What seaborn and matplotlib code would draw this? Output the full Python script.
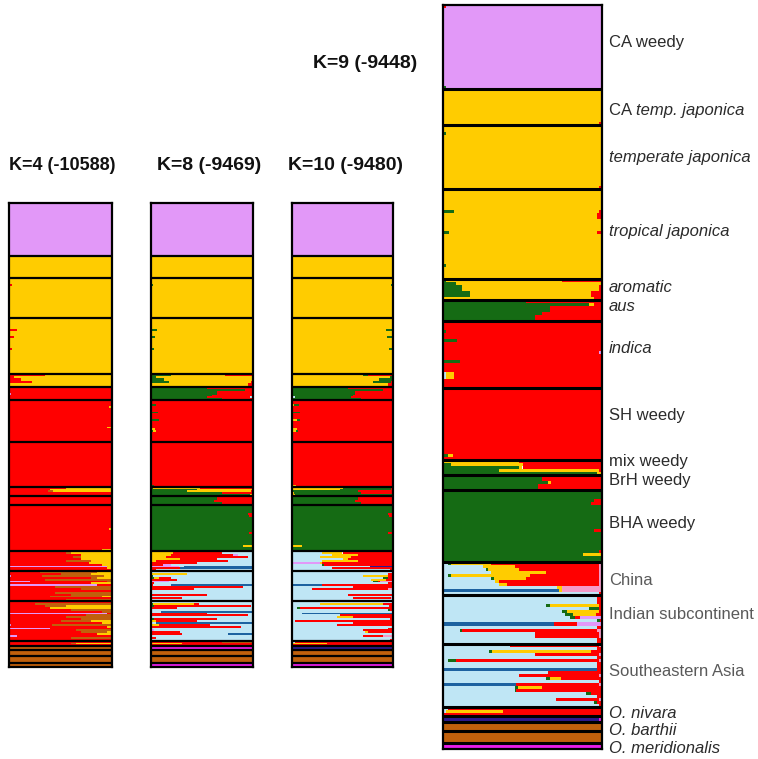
import matplotlib
matplotlib.use("Agg")
import matplotlib.pyplot as plt
import pandas as pd
import seaborn as sns

# group labels (plain part, italic part), top to bottom
label_plain = ["CA weedy", "CA ", "", "", "", "", "", "SH weedy", "mix weedy", "BrH weedy",
               "BHA weedy", "China", "Indian subcontinent", "Southeastern Asia", "", "", "", "", ""]
label_italic = ["", "temp. japonica", "temperate japonica", "tropical japonica", "aromatic", "aus",
                "indica", "", "", "", "", "", "", "", "O. nivara", "", "O. barthii", "", "O. meridionalis"]
label_grey = ["China", "Indian subcontinent", "Southeastern Asia"]

titles = ["K=4 (-10588)", "K=8 (-9469)", "K=10 (-9480)", "K=9 (-9448)"]

palette = {"lb": "#bfe6f5", "sb": "#1d62a0", "nv": "#2c1a8e", "g": "#156b14", "y": "#ffcc00",
           "r": "#ff0000", "pk": "#f59ac8", "li": "#e298f8", "br": "#c0600c", "mg": "#e81ee8"}

# left-to-right stacking order of the clusters in each run
k4_order = ["li", "r", "br", "y"]
k8_order = ["g", "y", "r", "li", "lb", "sb", "mg", "br"]
k10_order = ["lb", "li", "sb", "y", "g", "r", "pk", "nv", "br", "mg"]
k9_order = ["lb", "sb", "nv", "g", "y", "r", "pk", "li", "br", "mg"]

# membership rows per group: (number of individuals, {cluster: fraction})
k9_rows = [
    [(1, {"r": .02, "li": .98}), (26, {"li": 1}), (1, {"g": .02, "li": .98})],
    [(11, {"y": 1}), (1, {"y": .98, "r": .02})],
    [(2, {"y": 1}), (1, {"g": .02, "y": .98}), (17, {"y": 1}), (1, {"y": .98, "r": .02})],
    [(7, {"y": 1}), (1, {"g": .07, "y": .91, "r": .02}), (2, {"y": .97, "r": .03}), (4, {"y": 1}),
     (1, {"g": .04, "y": .93, "r": .03}), (10, {"y": 1}), (1, {"g": .02, "y": .98}), (4, {"y": 1})],
    [(1, {"g": .02, "y": .73, "r": .25}), (1, {"g": .08, "y": .92}), (2, {"g": .12, "y": .86, "r": .02}),
     (2, {"g": .17, "y": .76, "r": .07}), (1, {"y": .95, "r": .05})],
    [(1, {"g": .52, "r": .48}), (1, {"g": .92, "y": .03, "r": .05}), (2, {"g": .67, "r": .33}),
     (1, {"g": .62, "r": .38}), (2, {"g": .58, "r": .42})],
    [(3, {"r": 1}), (1, {"g": .02, "r": .98}), (2, {"r": 1}), (1, {"g": .09, "r": .91}), (3, {"r": 1}),
     (1, {"r": .98, "li": .02}), (2, {"r": 1}), (1, {"g": .11, "r": .89}), (3, {"r": 1}),
     (2, {"lb": .02, "y": .05, "r": .93}), (3, {"r": 1})],
    [(22, {"r": 1}), (1, {"g": .03, "y": .03, "r": .94}), (1, {"r": 1})],
    [(1, {"y": .48, "r": .52}), (1, {"g": .05, "y": .45, "r": .5}), (1, {"g": .48, "y": .02, "r": .5}),
     (1, {"g": .35, "y": .63, "r": .02}), (1, {"g": .97, "y": .03})],
    [(2, {"g": .62, "r": .38}), (1, {"g": .66, "y": .02, "r": .32}), (2, {"g": .6, "r": .4})],
    [(3, {"g": 1}), (1, {"g": .95, "r": .05}), (1, {"g": .93, "r": .07}), (8, {"g": 1}),
     (1, {"g": .95, "r": .05}), (6, {"g": 1}), (1, {"g": .98, "r": .02}), (1, {"g": .88, "y": .12}),
     (2, {"g": 1})],
    [(1, {"lb": .03, "g": .02, "y": .25, "r": .68, "pk": .02}), (1, {"lb": .25, "y": .2, "r": .53, "pk": .02}),
     (1, {"lb": .27, "g": .01, "y": .2, "r": .5, "pk": .02}), (1, {"lb": .3, "y": .35, "r": .33, "pk": .02}),
     (1, {"lb": .03, "g": .02, "y": .5, "r": .43, "pk": .02}), (1, {"lb": .3, "g": .02, "y": .2, "r": .46, "pk": .02}),
     (1, {"lb": .33, "y": .02, "r": .63, "pk": .02}), (1, {"lb": .35, "y": .05, "r": .58, "pk": .02}),
     (1, {"lb": .72, "y": .03, "pk": .25}), (1, {"sb": .73, "y": .02, "pk": .25}), (1, {"lb": .98, "r": .02})],
    [(3, {"lb": .97, "r": .03}), (1, {"lb": .65, "g": .02, "y": .31, "r": .02}), (1, {"lb": .92, "g": .06, "r": .02}),
     (1, {"lb": .75, "g": .03, "y": .2, "r": .02}), (1, {"lb": .77, "g": .05, "y": .14, "r": .04}),
     (1, {"lb": .8, "g": .03, "r": .03, "li": .14}), (1, {"lb": .97, "g": .02, "r": .01}),
     (1, {"sb": .7, "r": .14, "li": .16}), (1, {"lb": .97, "r": .03}), (1, {"lb": .11, "g": .01, "r": .85, "pk": .03}),
     (2, {"lb": .58, "r": .4, "pk": .02}), (2, {"lb": .97, "r": .03})],
    [(1, {"lb": .42, "r": .56, "pk": .02}), (1, {"lb": .97, "r": .03}), (1, {"lb": .29, "g": .02, "y": .62, "r": .07}),
     (1, {"lb": .58, "r": .4, "pk": .02}), (1, {"lb": .97, "r": .03}), (1, {"lb": .03, "g": .05, "r": .9, "pk": .02}),
     (2, {"lb": .97, "r": .03}), (1, {"sb": .97, "r": .03}), (1, {"lb": .66, "r": .34}),
     (1, {"lb": .48, "r": .5, "pk": .02}), (1, {"lb": .65, "g": .02, "y": .07, "r": .26}), (1, {"lb": .98, "r": .02}),
     (1, {"sb": .46, "r": .52, "pk": .02}), (1, {"lb": .45, "g": .02, "y": .15, "r": .38}),
     (1, {"lb": .45, "g": .01, "r": .54}), (1, {"lb": .9, "g": .03, "r": .07}), (1, {"lb": .97, "r": .03}),
     (1, {"lb": .71, "r": .27, "pk": .02}), (1, {"lb": .95, "g": .02, "r": .03}), (1, {"lb": .98, "r": .02})],
    [(1, {"lb": .03, "r": .97}), (1, {"lb": .02, "y": .36, "r": .62}), (1, {"r": 1})],
    [(2, {"nv": .98, "mg": .02})],
    [(3, {"br": 1})],
    [(4, {"br": 1})],
    [(2, {"mg": 1})],
]

k8_rows = [
    [(28, {"li": 1})],
    [(12, {"y": 1})],
    [(3, {"y": 1}), (1, {"g": .02, "y": .98}), (17, {"y": 1})],
    [(6, {"y": 1}), (1, {"g": .06, "y": .94}), (3, {"y": 1}), (1, {"g": .04, "y": .95, "r": .01}), (5, {"y": 1}),
     (1, {"g": .03, "y": .97}), (13, {"y": 1})],
    [(1, {"g": .2, "y": .53, "r": .27}), (1, {"g": .05, "y": .95}), (2, {"g": .13, "y": .87}),
     (1, {"g": .18, "y": .8, "r": .02}), (2, {"y": .95, "r": .05})],
    [(1, {"g": .55, "r": .45}), (1, {"g": .92, "r": .08}), (2, {"g": .65, "r": .35}), (1, {"g": .6, "r": .4}),
     (1, {"g": .55, "r": .42, "lb": .03}), (1, {"g": .7, "r": .3})],
    [(2, {"r": 1}), (1, {"g": .05, "r": .95}), (3, {"r": 1}), (1, {"g": .07, "r": .93}), (3, {"r": 1}),
     (1, {"g": .08, "r": .92}), (4, {"r": 1}), (1, {"y": .04, "r": .96}), (1, {"g": .02, "y": .03, "r": .95}),
     (5, {"r": 1})],
    [(23, {"r": 1}), (1, {"g": .03, "r": .97})],
    [(1, {"g": .02, "y": .46, "r": .52}), (1, {"g": .45, "y": .55}), (1, {"g": .35, "y": .63, "r": .02}),
     (1, {"g": .7, "r": .3}), (1, {"g": .97, "y": .03})],
    [(2, {"g": .65, "r": .35}), (1, {"g": .62, "r": .38}), (2, {"g": .7, "r": .3})],
    [(4, {"g": 1}), (1, {"g": .95, "r": .05}), (1, {"g": .96, "r": .04}), (8, {"g": 1}), (1, {"g": .96, "r": .04}),
     (6, {"g": 1}), (1, {"g": .9, "y": .1}), (2, {"g": 1})],
    [(1, {"y": .18, "r": .27, "lb": .55}), (1, {"y": .22, "r": .48, "lb": .3}),
     (1, {"y": .2, "r": .6, "li": .05, "lb": .15}), (1, {"y": .15, "r": .8, "lb": .05}),
     (1, {"y": .28, "r": .37, "lb": .35}), (1, {"y": .05, "r": .7, "lb": .25}), (1, {"r": .45, "lb": .55}),
     (1, {"r": .12, "li": .08, "lb": .8}), (1, {"li": .27, "lb": .05, "sb": .68}), (1, {"r": .28, "sb": .72}),
     (1, {"r": .05, "lb": .95})],
    [(1, {"lb": 1}), (1, {"y": .35, "lb": .65}), (1, {"g": .02, "lb": .98}),
     (1, {"g": .03, "y": .05, "r": .12, "lb": .8}), (1, {"r": .25, "lb": .75}), (1, {"li": .18, "lb": .82}),
     (1, {"r": .03, "lb": .97}), (1, {"r": .02, "lb": .18, "sb": .8}), (1, {"r": .9, "lb": .1}),
     (1, {"r": .42, "lb": .58}), (2, {"lb": 1}), (1, {"r": .55, "lb": .45}), (1, {"lb": 1}),
     (1, {"r": .3, "lb": .7}), (1, {"lb": 1})],
    [(1, {"lb": 1}), (1, {"g": .02, "y": .4, "r": .05, "lb": .53}), (1, {"g": .03, "r": .95, "lb": .02}),
     (1, {"r": .25, "lb": .75}), (1, {"lb": 1}), (1, {"lb": .1, "sb": .9}), (1, {"r": .55, "lb": .45}),
     (1, {"r": .95, "lb": .05}), (1, {"lb": 1}), (1, {"g": .03, "r": .62, "lb": .35}),
     (1, {"y": .05, "r": .4, "lb": .55}), (1, {"lb": .05, "sb": .95}), (1, {"y": .08, "r": .5, "lb": .42}),
     (1, {"r": .88, "lb": .12}), (1, {"lb": 1}), (1, {"li": .03, "lb": .97}), (1, {"r": .28, "lb": .72}),
     (1, {"r": .3, "lb": .45, "sb": .25}), (1, {"lb": 1}), (1, {"r": .05, "lb": .95}), (1, {"lb": 1})],
    [(1, {"r": .7, "br": .3}), (1, {"y": .3, "r": .7}), (1, {"r": 1})],
    [(2, {"mg": 1})],
    [(3, {"br": 1})],
    [(4, {"br": 1})],
    [(2, {"mg": 1})],
]

k10_rows = [
    [(28, {"li": 1})],
    [(12, {"y": 1})],
    [(3, {"y": 1}), (1, {"y": .98, "g": .02}), (17, {"y": 1})],
    [(6, {"y": 1}), (1, {"y": .93, "g": .07}), (3, {"y": 1}), (1, {"y": .94, "g": .06}), (5, {"y": 1}),
     (1, {"y": .96, "g": .04}), (13, {"y": 1})],
    [(1, {"y": .7, "g": .05, "r": .25}), (1, {"y": .97, "g": .03}), (2, {"y": .86, "g": .14}),
     (1, {"y": .8, "g": .18, "r": .02}), (2, {"y": .95, "r": .05})],
    [(1, {"g": .55, "r": .45}), (1, {"g": .9, "r": .1}), (2, {"g": .62, "r": .38}), (1, {"g": .6, "r": .4}),
     (1, {"lb": .03, "g": .55, "r": .42}), (1, {"g": .68, "r": .32})],
    [(2, {"r": 1}), (1, {"y": .02, "g": .05, "r": .93}), (3, {"r": 1}), (1, {"g": .08, "r": .92}), (3, {"r": 1}),
     (1, {"y": .05, "g": .03, "r": .92}), (4, {"r": 1}), (1, {"y": .05, "r": .95}),
     (1, {"y": .04, "g": .02, "r": .94}), (5, {"r": 1})],
    [(23, {"r": 1}), (1, {"y": .04, "r": .96})],
    [(1, {"y": .5, "g": .48, "r": .02}), (1, {"y": .48, "g": .5, "r": .02}), (1, {"g": .65, "r": .35}),
     (1, {"y": .02, "g": .66, "r": .32}), (1, {"y": .03, "g": .97})],
    [(2, {"g": .65, "r": .35}), (1, {"g": .62, "r": .38}), (2, {"g": .68, "r": .32})],
    [(4, {"g": 1}), (1, {"g": .95, "r": .05}), (1, {"g": .96, "r": .04}), (8, {"g": 1}), (1, {"g": .95, "r": .05}),
     (6, {"g": 1}), (1, {"y": .1, "g": .9}), (2, {"g": 1})],
    [(1, {"lb": .25, "y": .15, "r": .6}), (1, {"lb": .3, "y": .2, "r": .5}), (1, {"lb": .4, "y": .25, "r": .35}),
     (1, {"lb": .28, "y": .3, "r": .42}), (1, {"lb": .5, "y": .05, "r": .45}), (1, {"lb": .3, "y": .35, "r": .35}),
     (1, {"li": .28, "y": .02, "r": .7}), (1, {"lb": .3, "g": .02, "r": .68}), (1, {"lb": .77, "nv": .23}),
     (1, {"lb": .4, "r": .6}), (1, {"lb": .97, "r": .03})],
    [(1, {"lb": 1}), (1, {"lb": .95, "r": .05}), (1, {"lb": .7, "y": .25, "r": .05}),
     (1, {"lb": .9, "g": .05, "r": .05}), (1, {"lb": .78, "y": .15, "r": .07}),
     (1, {"lb": .8, "g": .05, "r": .02, "pk": .13}), (1, {"lb": .95, "r": .05}), (1, {"sb": .3, "r": .7}),
     (1, {"lb": .6, "r": .4}), (1, {"lb": .2, "r": .75, "pk": .05}), (2, {"lb": 1}), (1, {"lb": .55, "r": .45}),
     (1, {"lb": 1}), (1, {"lb": .6, "r": .38, "pk": .02}), (1, {"lb": 1})],
    [(1, {"lb": 1}), (1, {"lb": .28, "y": .62, "r": .1}), (1, {"lb": .96, "r": .04}),
     (1, {"lb": .05, "g": .03, "r": .92}), (1, {"lb": .95, "g": .02, "r": .03}), (1, {"lb": 1}),
     (1, {"lb": .1, "sb": .9}), (1, {"lb": .48, "r": .52}), (1, {"lb": .45, "y": .15, "r": .4}),
     (1, {"lb": .97, "r": .03}), (1, {"lb": .03, "r": .97}), (1, {"lb": .6, "r": .4}), (1, {"lb": .45, "r": .55}),
     (1, {"lb": 1}), (1, {"lb": .95, "r": .05}), (1, {"lb": .7, "r": .3}), (1, {"lb": .72, "y": .03, "r": .25}),
     (1, {"lb": 1}), (1, {"lb": .7, "r": .2, "pk": .1}), (1, {"lb": 1}), (1, {"lb": .97, "r": .03})],
    [(1, {"lb": .03, "r": .97}), (1, {"y": .35, "r": .65}), (1, {"r": 1})],
    [(2, {"nv": 1})],
    [(3, {"br": 1})],
    [(4, {"br": 1})],
    [(2, {"mg": 1})],
]

k4_rows = [
    [(28, {"li": 1})],
    [(12, {"y": 1})],
    [(3, {"y": 1}), (1, {"r": .03, "y": .97}), (17, {"y": 1})],
    [(6, {"y": 1}), (1, {"r": .08, "y": .92}), (3, {"y": 1}), (1, {"r": .05, "y": .95}), (5, {"y": 1}),
     (1, {"r": .03, "y": .97}), (13, {"y": 1})],
    [(1, {"r": .35, "y": .65}), (1, {"r": .05, "y": .95}), (2, {"r": .12, "y": .88}), (1, {"r": .22, "y": .78}),
     (2, {"y": 1})],
    [(3, {"r": 1}), (1, {"li": .02, "r": .98}), (3, {"r": 1})],
    [(3, {"r": 1}), (1, {"r": .97, "y": .03}), (10, {"r": 1}), (1, {"r": .95, "y": .05}), (7, {"r": 1})],
    [(24, {"r": 1})],
    [(1, {"r": .55, "y": .45}), (1, {"r": .4, "y": .6}), (1, {"r": .38, "br": .05, "y": .57}), (2, {"r": 1})],
    [(5, {"r": 1})],
    [(12, {"r": 1}), (1, {"r": .97, "y": .03}), (10, {"r": 1}), (1, {"r": .9, "y": .1})],
    [(1, {"r": 1}), (1, {"r": .55, "br": .05, "y": .4}), (1, {"r": .7, "y": .3}), (1, {"r": .62, "br": .08, "y": .3}),
     (1, {"r": .7, "y": .3}), (1, {"r": .55, "br": .25, "y": .2}), (1, {"r": .78, "y": .22}),
     (1, {"r": .9, "y": .1}), (1, {"li": .95, "y": .05}), (1, {"r": .95, "y": .05}), (1, {"r": 1})],
    [(1, {"r": .3, "br": .55, "y": .15}), (1, {"r": .5, "br": .3, "y": .2}), (1, {"li": .02, "r": .3, "br": .6, "y": .08}),
     (1, {"r": .8, "br": .05, "y": .15}), (1, {"r": .35, "br": .65}), (1, {"li": .2, "r": .75, "br": .05}),
     (1, {"r": .8, "y": .2}), (1, {"li": .85, "r": .15}), (1, {"r": .45, "br": .55}), (1, {"r": .7, "br": .3}),
     (1, {"r": 1}), (1, {"r": .45, "br": .55}), (1, {"r": .6, "br": .4}), (1, {"r": .4, "br": .5, "y": .1}),
     (1, {"r": 1}), (1, {"r": .55, "br": .45})],
    [(1, {"r": 1}), (1, {"r": .25, "br": .75}), (1, {"r": .35, "br": .2, "y": .45}), (1, {"r": .4, "y": .6}),
     (1, {"r": .6, "br": .4}), (1, {"r": .9, "br": .1}), (1, {"li": .95, "r": .05}), (1, {"r": .75, "br": .25}),
     (1, {"r": .55, "br": .45}), (1, {"r": .7, "br": .3}), (1, {"r": .5, "br": .3, "y": .2}), (1, {"r": .9, "y": .1}),
     (1, {"li": .02, "r": .4, "br": .58}), (1, {"r": .95, "y": .05}), (1, {"li": .4, "r": .6}),
     (1, {"r": .65, "br": .35}), (1, {"r": .7, "br": .25, "y": .05}), (1, {"r": .85, "y": .15}),
     (1, {"li": .08, "r": .92}), (1, {"r": .6, "br": .4}), (1, {"r": 1})],
    [(1, {"r": 1}), (1, {"r": .6, "br": .05, "y": .35}), (1, {"r": 1})],
    [(2, {"br": 1})],
    [(3, {"br": 1})],
    [(4, {"br": 1})],
    [(2, {"br": 1})],
]

# small upward nudges (pixels) so the labels sit where the original put them
label_dy = [5, -3, 0, 2, 2, 4, 6, 8, 6, 2, 3, -2, 5, 4, -2, 0, -4, 0, -3]


def to_frame(rows, order):
    recs = []
    idx = 0
    for grp in rows:
        for n, fracs in grp:
            for _ in range(n):
                for c in order:
                    recs.append((idx, c, fracs.get(c, 0.0)))
                idx += 1
    return pd.DataFrame(recs, columns=["sample", "cluster", "q"])


def draw_panel(ax, rows, order, sep_lw):
    df = to_frame(rows, order)
    # seaborn stacks the last hue level first, so hand it the order reversed
    sns.histplot(data=df, y="sample", hue="cluster", weights="q", hue_order=order[::-1],
                 palette=palette, multiple="fill", discrete=True, shrink=1,
                 linewidth=0, alpha=1, antialiased=False, legend=False, ax=ax)
    n = df["sample"].nunique()
    ax.set_xlim(0, 1)
    ax.set_ylim(n - 0.5, -0.5)
    ax.set_xticks([])
    ax.set_yticks([])
    ax.set_xlabel("")
    ax.set_ylabel("")
    pos = 0
    for grp in rows[:-1]:
        pos += sum(k for k, _ in grp)
        ax.axhline(pos - 0.5, color="black", lw=sep_lw)
    for sp in ax.spines.values():
        sp.set_visible(True)
        sp.set_color("black")
        sp.set_linewidth(1.6)
    return n


sns.set_style("white")
plt.rcParams["font.family"] = ["Liberation Sans", "DejaVu Sans"]

W, H = 758, 759
fig = plt.figure(figsize=(W / 100, H / 100), dpi=100)

ax4 = fig.add_axes([9 / W, 92 / H, 103 / W, 464 / H])
ax8 = fig.add_axes([151 / W, 92 / H, 102 / W, 464 / H])
ax10 = fig.add_axes([292 / W, 92 / H, 101 / W, 464 / H])
ax9 = fig.add_axes([443 / W, 10 / H, 159 / W, 744 / H])

draw_panel(ax4, k4_rows, k4_order, 1.6)
draw_panel(ax8, k8_rows, k8_order, 1.6)
draw_panel(ax10, k10_rows, k10_order, 1.6)
draw_panel(ax9, k9_rows, k9_order, 2.2)

# group labels beside the K=9 panel
start = 0
for grp, plain, ital, dy in zip(k9_rows, label_plain, label_italic, label_dy):
    size = sum(k for k, _ in grp)
    center = start + size / 2 - 0.5
    start += size
    if not plain and not ital:
        continue
    col = "#5a5a5a" if plain in label_grey else "#2b2b2b"
    t = None
    if plain:
        t = ax9.annotate(plain, xy=(1, center), xycoords=ax9.get_yaxis_transform(),
                         xytext=(7, dy), textcoords="offset pixels",
                         ha="left", va="center", fontsize=12, color=col)
    if ital:
        if t is None:
            ax9.annotate(ital, xy=(1, center), xycoords=ax9.get_yaxis_transform(),
                         xytext=(7, dy), textcoords="offset pixels",
                         ha="left", va="center", fontsize=12, color=col, style="italic")
        else:
            ax9.annotate(ital, xy=(1, 0.5), xycoords=t, ha="left", va="center",
                         fontsize=12, color=col, style="italic")

title_xy = [(62, 165, 13), (209, 165, 14), (346, 165, 14), (365, 64, 14)]
for txt, (px, py, fs) in zip(titles, title_xy):
    fig.text(px / W, 1 - py / H, txt, ha="center", va="center",
             fontsize=fs, fontweight="bold", color="#111111")

fig.savefig("out.png", dpi=100)
